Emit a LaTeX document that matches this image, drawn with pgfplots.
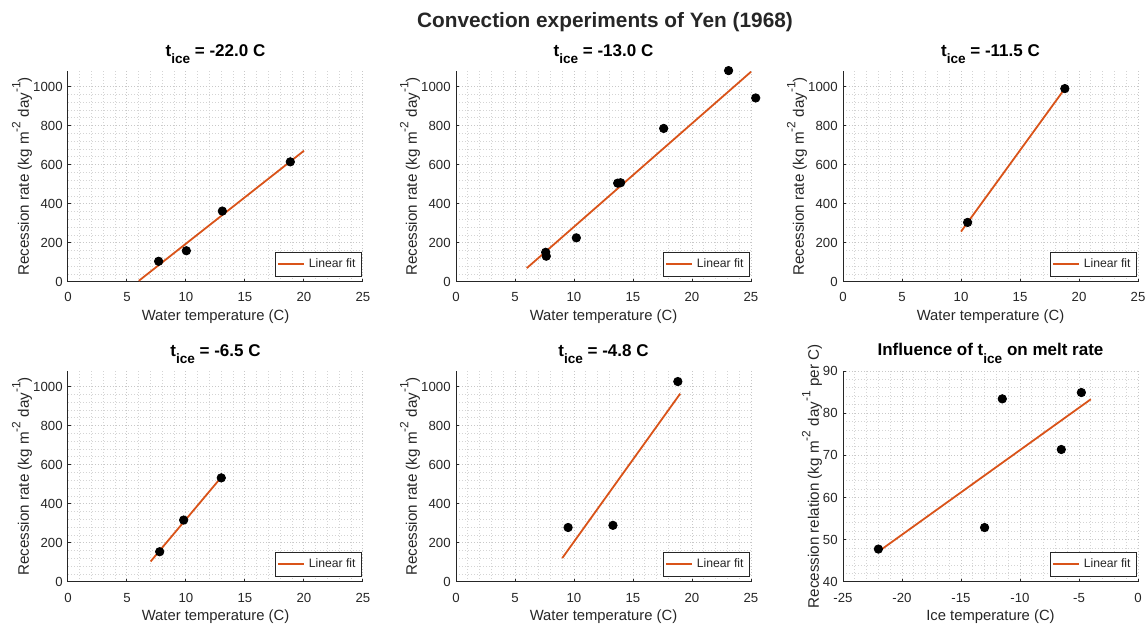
\documentclass[border=0pt]{standalone}
\usepackage{fontspec}
\setmainfont{Liberation Sans}
\usepackage{pgfplots}
\pgfplotsset{compat=1.18}

\definecolor{fitorange}{rgb}{0.85,0.325,0.098}
\definecolor{axgray}{HTML}{262626}
\definecolor{majgrid}{HTML}{C8C8C8}
\definecolor{mingrid}{HTML}{D4D4D4}

% subscripted ice temperature symbol used in the titles
\newcommand{\tice}{t\raisebox{-0.42em}{\fontsize{6.8pt}{7pt}\selectfont ice}}
\newcommand{\sups}[1]{\raisebox{0.55em}{\fontsize{6pt}{7pt}\selectfont #1}}
\newcommand{\ratelabel}{Recession rate (kg m\sups{-2} day\sups{-1})}

\pgfplotsset{
  panel/.style={
    scale only axis, width=147.5pt, height=105.5pt,
    axis x line*=bottom, axis y line*=left,
    axis line style={axgray, line width=0.5pt, -},
    tick align=inside, major tick length=1.6pt, minor tick length=0pt,
    tick style={axgray, line width=0.5pt},
    minor tick num=4,
    grid=both,
    major grid style={majgrid, dash pattern=on 0.5pt off 1pt, line width=0.5pt},
    minor grid style={mingrid, dash pattern=on 0.5pt off 1pt, line width=0.5pt},
    /pgf/number format/assume math mode=true,
    /pgf/number format/1000 sep={},
    ticklabel style={font=\fontsize{6.6pt}{7pt}\selectfont, text=axgray},
    xticklabel style={anchor=base, yshift=-10pt},
    yticklabel style={anchor=east, inner sep=0pt, xshift=-2.5pt},
    every axis x label/.style={at={(axis description cs:0.5,0)}, anchor=base,
                  yshift=-19.5pt, font=\fontsize{7.4pt}{8pt}\selectfont, text=axgray},
    every axis y label/.style={rotate=90, anchor=center,
                  font=\fontsize{7.6pt}{8pt}\selectfont, text=axgray},
    every axis title/.style={at={(axis description cs:0.5,1)}, anchor=base,
                  yshift=7.5pt, font=\bfseries\fontsize{8.5pt}{9pt}\selectfont, text=black},
    clip=false,
    legend cell align=left,
    legend style={at={(axis description cs:1,0)}, anchor=south east,
                  xshift=-0.5pt, yshift=2.5pt, draw=axgray, line width=0.4pt,
                  font=\fontsize{6.1pt}{7pt}\selectfont, text=axgray,
                  inner xsep=1pt, inner ysep=1.2pt},
    legend image code/.code={\draw[#1, mark=none] (0pt,0pt) -- (13pt,0pt);},
  },
  waterpanel/.style={
    panel,
    xmin=0, xmax=25, ymin=0, ymax=1080,
    xtick={0,5,...,25}, ytick={0,200,...,1000},
    xlabel={Water temperature (C)},
    ylabel={\ratelabel},
    ylabel style={at={(axis description cs:-0.156,0.5)}},
  },
  obs/.style={only marks, mark=*, mark size=2.1pt, black, forget plot},
  fit/.style={fitorange, line width=0.9pt, no marks},
}

\begin{document}
\begin{tikzpicture}
\path[use as bounding box] (0pt,0pt) rectangle (574pt,-313pt);

\node[font=\bfseries\fontsize{10.4pt}{12pt}\selectfont, anchor=base, text=axgray]
  at (302.5pt,-14pt) {Convection experiments of Yen (1968)};

% t_ice = -22.0 C
\begin{axis}[waterpanel, at={(34pt,-141pt)}, anchor=south west,
  title={\tice{} = -22.0 C}]
\addplot[obs] coordinates {(7.68,106) (10.03,160) (13.08,363) (18.84,615)};
\addplot[fit] coordinates {(6,6) (20,672)};
\addlegendentry{Linear fit}
\end{axis}

% t_ice = -13.0 C
\begin{axis}[waterpanel, at={(228pt,-141pt)}, anchor=south west,
  title={\tice{} = -13.0 C}]
\addplot[obs] coordinates {(7.6,152) (7.65,132) (10.2,226) (13.7,506) (13.95,508)
  (17.6,786) (23.1,1082) (25.4,942)};
\addplot[fit] coordinates {(6,71) (25,1076)};
\addlegendentry{Linear fit}
\end{axis}

% t_ice = -11.5 C
\begin{axis}[waterpanel, at={(421.5pt,-141pt)}, anchor=south west,
  title={\tice{} = -11.5 C}]
\addplot[obs] coordinates {(10.56,305) (18.8,990)};
\addplot[fit] coordinates {(10,258) (18.8,990)};
\addlegendentry{Linear fit}
\end{axis}

% t_ice = -6.5 C
\begin{axis}[waterpanel, at={(34pt,-291pt)}, anchor=south west,
  title={\tice{} = -6.5 C}]
\addplot[obs] coordinates {(7.77,155) (9.8,317) (12.99,533)};
\addplot[fit] coordinates {(7,105) (13,537)};
\addlegendentry{Linear fit}
\end{axis}

% t_ice = -4.8 C
\begin{axis}[waterpanel, at={(228pt,-291pt)}, anchor=south west,
  title={\tice{} = -4.8 C}]
\addplot[obs] coordinates {(9.5,279) (13.3,290) (18.8,1026)};
\addplot[fit] coordinates {(9,122) (19,964)};
\addlegendentry{Linear fit}
\end{axis}

% slope of each fit against ice temperature
\begin{axis}[panel, at={(421.5pt,-291pt)}, anchor=south west,
  xmin=-25, xmax=0, ymin=40, ymax=90,
  xtick={-25,-20,...,0}, ytick={40,50,...,90},
  xticklabels={{-25},{-20},{-15},{-10},{-5},{0}},
  xlabel={Ice temperature (C)},
  ylabel={Recession relation (kg m\sups{-2} day\sups{-1} per C)},
  ylabel style={at={(axis description cs:-0.105,0.5)}},
  title={Influence of \tice{} on melt rate}]
\addplot[obs] coordinates {(-22,47.8) (-13,52.9) (-11.5,83.4) (-6.5,71.4) (-4.8,84.9)};
\addplot[fit] coordinates {(-22,47.2) (-4,83.3)};
\addlegendentry{Linear fit}
\end{axis}
\end{tikzpicture}
\end{document}
